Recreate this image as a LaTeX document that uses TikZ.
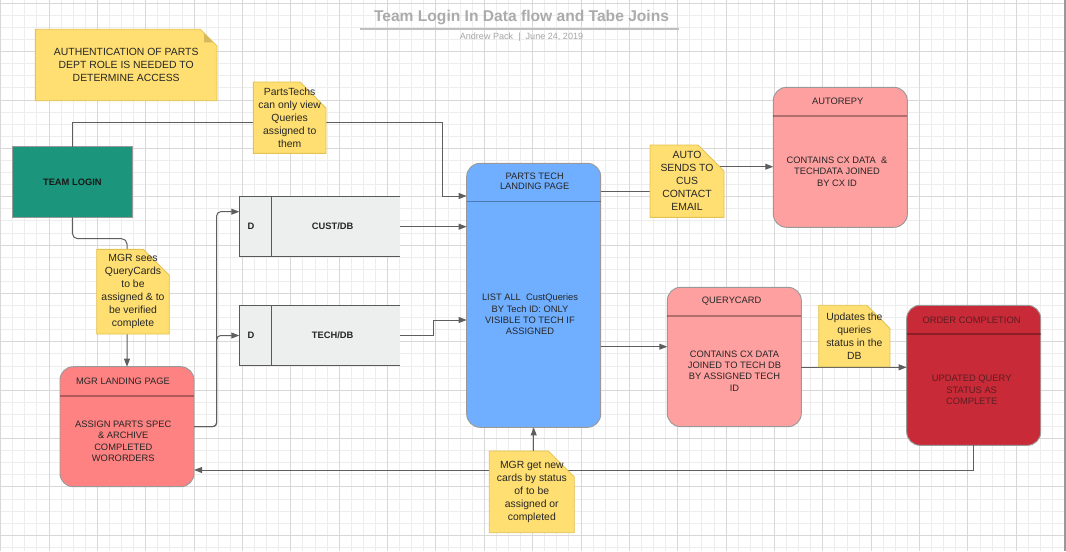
\documentclass[tikz,border=0pt]{standalone}
\usepackage{fontspec}
\setmainfont{Liberation Sans}
\usetikzlibrary{arrows.meta,shapes.misc}

\definecolor{notefill}{HTML}{FFDF71}
\definecolor{notedge}{HTML}{E2C250}
\definecolor{notefold}{HTML}{D5B95B}
\definecolor{loginteal}{HTML}{1B967D}
\definecolor{mgrred}{HTML}{FF8282}
\definecolor{cardpink}{HTML}{FFA0A0}
\definecolor{techblue}{HTML}{70AFFF}
\definecolor{donered}{HTML}{C82A38}
\definecolor{donetext}{HTML}{5B1E22}
\definecolor{dbgray}{HTML}{EDEFEE}
\definecolor{linegray}{HTML}{5E5E5E}
\definecolor{minorline}{HTML}{EDEDED}
\definecolor{majorline}{HTML}{D8D8D8}

\tikzset{
    sz/.style 2 args={minimum width=#1*0.75pt,minimum height=#2*0.75pt},
    page/.style={draw=black!40, line width=0.7pt, rounded corners=10pt, inner sep=0pt, outer sep=0pt},
    divline/.style={draw=black, draw opacity=0.3, line width=1pt},
    dbbox/.style={fill=dbgray, inner sep=0pt, outer sep=0pt},
    dbline/.style={draw=black!65, line width=0.8pt},
    boxtext/.style={font=\fontsize{7}{8.5}\selectfont, align=center, text=black!85, inner sep=0pt},
    boldtext/.style={boxtext, font=\bfseries\fontsize{7}{8.5}\selectfont},
    note/.style={chamfered rectangle, chamfered rectangle corners=north east,
        chamfered rectangle sep=9.75pt, fill=notefill, draw=notedge, line width=0.6pt,
        inner sep=-9.75pt, outer sep=0pt, align=center, text=black!85,
        font=\fontsize{7.8}{9.7}\selectfont,
        path picture={\fill[notefold] ([xshift=-9.75pt]path picture bounding box.north east)
            -- ([yshift=-9.75pt]path picture bounding box.north east)
            -- ([xshift=-9.75pt,yshift=-9.75pt]path picture bounding box.north east) -- cycle;}},
    flow/.style={draw=linegray, line width=0.75pt, ->}
}

\begin{document}
\begin{tikzpicture}[x=0.75pt,y=-0.75pt,>={Triangle[length=6pt,width=4.4pt]}]

    \useasboundingbox (0,0) rectangle (1066,551);

    % paper grid
    \fill[white] (0,0) rectangle (1066,551);
    \foreach \k in {0,...,88} \draw[minorline, line width=0.75pt] (0.7+12.09*\k,0) -- (0.7+12.09*\k,551);
    \foreach \k in {0,...,45} \draw[minorline, line width=0.75pt] (0,3.3+12.09*\k) -- (1066,3.3+12.09*\k);
    \foreach \k in {0,...,22} \draw[majorline, line width=0.75pt] (0.7+48.36*\k,0) -- (0.7+48.36*\k,551);
    \foreach \k in {0,...,11} \draw[majorline, line width=0.75pt] (0,3.3+48.36*\k) -- (1066,3.3+48.36*\k);
    \fill[black!40] (1063.5,0) rectangle (1066,551);

    % heading
    \node[font=\bfseries\fontsize{11.7}{14}\selectfont, text=black!33, inner sep=0pt, anchor=base] (title) at (521.5,21.7) {Team Login In Data flow and Tabe Joins};
    \draw[black!25, line width=1.1pt] (360,29) -- (679,29);
    \node[font=\fontsize{6.8}{8}\selectfont, text=black!35, inner sep=0pt] (byline) at (521.5,36.7) {Andrew Pack~~|~~June 24, 2019};

    % boxes
    \node[page, rounded corners=0pt, fill=loginteal, sz={120.7}{70.6}, font=\bfseries\fontsize{7}{8.5}\selectfont, text=black!90] (login) at (72.35,182) {TEAM LOGIN};

    \node[page, fill=mgrred, sz={134}{120}] (mgr) at (127,426.7) {};
    \draw[divline] ([yshift=-22pt]mgr.north west) -- ([yshift=-22pt]mgr.north east);
    \node[boxtext] (mgrhead) at (123,381.3) {MGR LANDING PAGE};
    \node[boxtext] (mgrbody) at (123.3,441.3) {ASSIGN PARTS SPEC\\\& ARCHIVE\\COMPLETED\\WORORDERS};

    \node[dbbox, sz={160.7}{60}] (custdb) at (319.7,226.7) {};
    \draw[dbline] (custdb.north east) -- (custdb.north west) -- (custdb.south west) -- (custdb.south east);
    \draw[dbline] ([xshift=24.3pt]custdb.north west) -- ([xshift=24.3pt]custdb.south west);
    \node[boldtext] (custd) at (251,226.7) {D};
    \node[boldtext] (custname) at (332.7,226.7) {CUST/DB};

    \node[dbbox, sz={160.7}{59.6}] (techdb) at (319.7,335.5) {};
    \draw[dbline] (techdb.north east) -- (techdb.north west) -- (techdb.south west) -- (techdb.south east);
    \draw[dbline] ([xshift=24.3pt]techdb.north west) -- ([xshift=24.3pt]techdb.south west);
    \node[boldtext] (techd) at (251,335.5) {D};
    \node[boldtext] (techname) at (332.7,335.5) {TECH/DB};

    \node[page, fill=techblue, sz={134}{264}] (parts) at (533.7,295.3) {};
    \draw[divline] ([yshift=-28.8pt]parts.north west) -- ([yshift=-28.8pt]parts.north east);
    \node[boxtext, font=\fontsize{7}{8}\selectfont] (partshead) at (534.7,181.3) {PARTS TECH\\LANDING PAGE};
    \node[boxtext] (partsbody) at (530,314.5) {LIST ALL~~CustQueries\\BY Tech ID: ONLY\\VISIBLE TO TECH IF\\ASSIGNED};

    \node[page, fill=cardpink, sz={134}{140}] (autorepy) at (840.3,157.3) {};
    \draw[divline] ([yshift=-21.5pt]autorepy.north west) -- ([yshift=-21.5pt]autorepy.north east);
    \node[boxtext] (autohead) at (837.7,101.3) {AUTOREPY};
    \node[boxtext] (autobody) at (837,171.5) {CONTAINS CX DATA~~\&\\TECHDATA JOINED\\BY CX ID};

    \node[page, fill=cardpink, sz={134}{139.4}] (querycard) at (734.3,357) {};
    \draw[divline] ([yshift=-21.5pt]querycard.north west) -- ([yshift=-21.5pt]querycard.north east);
    \node[boxtext] (cardhead) at (731.7,301.3) {QUERYCARD};
    \node[boxtext] (cardbody) at (734.5,371) {CONTAINS CX DATA\\JOINED TO TECH DB\\BY ASSIGNED TECH\\ID};

    \node[page, fill=donered, sz={134}{140}] (order) at (973.7,375.3) {};
    \draw[divline] ([yshift=-21.5pt]order.north west) -- ([yshift=-21.5pt]order.north east);
    \node[boxtext, text=donetext] (donehead) at (971.5,320) {ORDER COMPLETION};
    \node[boxtext, text=donetext] (donebody) at (971.7,390) {UPDATED QUERY\\STATUS AS\\COMPLETE};

    % connectors
    \coordinate (loginup) at (72.35,122);
    \coordinate (partsin) at (442.7,196);
    \draw[flow] (login.north) -- (loginup) -| (partsin) -- (parts.west |- partsin);

    \coordinate (loginbend) at (127,238.7);
    \draw[flow, rounded corners=4pt] (login.south) |- (loginbend) -- (mgr.north);

    \coordinate (custin) at (216.7,211.7);
    \coordinate (techin) at (216.7,335.5);
    \draw[flow, rounded corners=3pt] (mgr.east) -| (custin) -- (custdb.west |- custin);
    \draw[flow, rounded corners=3pt] (mgr.east) -| (techin) -- (techdb.west);

    \draw[flow] (custdb.east) -- (parts.west |- custdb.east);
    \coordinate (techbend) at (433.3,320);
    \draw[flow] (techdb.east) -| (techbend) -- (parts.west |- techbend);

    \coordinate (autolow) at (686,191.3);
    \coordinate (autohigh) at (686,166.7);
    \draw[flow] (parts.east |- autolow) -- (autolow) -- (autohigh) -- (autorepy.west |- autohigh);

    \coordinate (cardin) at (634,346.7);
    \draw[flow] (parts.east |- cardin) -- (querycard.west |- cardin);

    \coordinate (donein) at (850,367.3);
    \draw[flow] (querycard.east |- donein) -- (order.west |- donein);

    \coordinate (backlow) at (973.7,470);
    \draw[flow] (order.south) -- (backlow) -- (mgr.east |- backlow);

    % sticky notes
    \node[note, sz={181.7}{71.4}] (authnote) at (126.2,65) {AUTHENTICATION OF PARTS\\DEPT ROLE IS NEEDED TO\\DETERMINE ACCESS};
    \node[note, sz={72.7}{71.3}] (viewnote) at (289.7,117.7) {PartsTechs\\can only view\\Queries\\assigned to\\them};
    \node[note, sz={72.6}{84.7}] (seesnote) at (133,291.7) {MGR sees\\QueryCards\\to be\\assigned \& to\\be verified\\complete};
    \node[note, sz={74}{72.3}] (autonote) at (687,181.2) {AUTO\\SENDS TO\\CUS\\CONTACT\\EMAIL};
    \node[note, sz={71.3}{61.4}] (updnote) at (854.3,336) {Updates the\\queries\\status in the\\DB};
    \node[note, sz={85}{81.7}] (getnote) at (531.8,491.8) {MGR get new\\cards by status\\of to be\\assigned or\\completed};

    \draw[flow] (parts.south |- getnote.north) -- (parts.south);
\end{tikzpicture}
\end{document}
